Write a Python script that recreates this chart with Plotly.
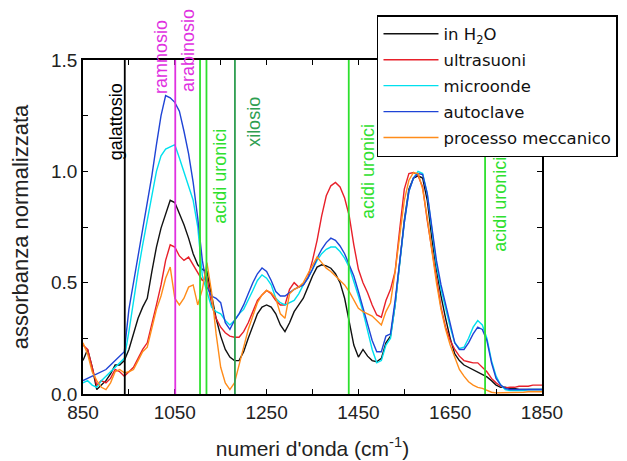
import plotly.graph_objects as go

# Wavenumber grid (cm^-1)
wavenumber = list(range(850, 1851, 10))

# Normalised absorbance
in_h2o = [
    0.15, 0.20, 0.12, 0.02, 0.04, 0.06, 0.09, 0.13, 0.13, 0.15,
    0.20, 0.27, 0.34, 0.39, 0.43, 0.55, 0.66, 0.745, 0.81, 0.87,
    0.86, 0.81, 0.76, 0.70, 0.63, 0.58, 0.56, 0.55, 0.45, 0.34,
    0.26, 0.20, 0.166, 0.15, 0.15, 0.19, 0.25, 0.31, 0.36, 0.39,
    0.40, 0.39, 0.36, 0.31, 0.28, 0.32, 0.37, 0.40, 0.43, 0.48,
    0.53, 0.57, 0.58, 0.575, 0.565, 0.54, 0.50, 0.43, 0.33, 0.22,
    0.166, 0.20, 0.17, 0.15, 0.145, 0.16, 0.23, 0.26, 0.40, 0.60,
    0.78, 0.92, 0.97, 0.98, 0.97, 0.87, 0.70, 0.56, 0.44, 0.34,
    0.25, 0.18, 0.15, 0.13, 0.12, 0.11, 0.10, 0.09, 0.077, 0.06,
    0.04, 0.03, 0.03, 0.025, 0.025, 0.02, 0.02, 0.02, 0.02, 0.02, 0.02,
]
ultrasuoni = [
    0.22, 0.20, 0.12, 0.04, 0.06, 0.05, 0.07, 0.11, 0.10, 0.08,
    0.10, 0.12, 0.16, 0.20, 0.23, 0.31, 0.40, 0.49, 0.60, 0.67,
    0.66, 0.62, 0.60, 0.615, 0.58, 0.55, 0.51, 0.525, 0.40, 0.34,
    0.30, 0.275, 0.26, 0.255, 0.255, 0.28, 0.32, 0.37, 0.42, 0.445,
    0.465, 0.45, 0.42, 0.40, 0.40, 0.47, 0.50, 0.48, 0.49, 0.525,
    0.60, 0.69, 0.80, 0.89, 0.935, 0.95, 0.93, 0.88, 0.80, 0.67,
    0.56, 0.50, 0.455, 0.40, 0.355, 0.345, 0.42, 0.47, 0.55, 0.74,
    0.92, 0.99, 0.995, 0.98, 0.93, 0.78, 0.64, 0.52, 0.39, 0.30,
    0.24, 0.20, 0.17, 0.15, 0.145, 0.14, 0.14, 0.12, 0.10, 0.07,
    0.05, 0.035, 0.027, 0.03, 0.03, 0.035, 0.035, 0.035, 0.04, 0.04, 0.04,
]
microonde = [
    0.05, 0.06, 0.04, 0.03, 0.06, 0.08, 0.10, 0.12, 0.14, 0.16,
    0.28, 0.42, 0.55, 0.67, 0.78, 0.90, 1.00, 1.07, 1.10, 1.11,
    1.12, 1.06, 1.00, 0.94, 0.87, 0.75, 0.53, 0.46, 0.39, 0.37,
    0.36, 0.33, 0.31, 0.33, 0.36, 0.38, 0.42, 0.465, 0.51, 0.535,
    0.52, 0.49, 0.43, 0.41, 0.40, 0.41, 0.42, 0.45, 0.49, 0.52,
    0.56, 0.60, 0.63, 0.65, 0.66, 0.66, 0.64, 0.61, 0.57, 0.51,
    0.44, 0.37, 0.28, 0.20, 0.14, 0.15, 0.22, 0.25, 0.40, 0.60,
    0.77, 0.91, 0.97, 1.00, 0.99, 0.90, 0.73, 0.58, 0.47, 0.38,
    0.30, 0.23, 0.205, 0.21, 0.25, 0.30, 0.33, 0.31, 0.25, 0.15,
    0.08, 0.04, 0.02, 0.015, 0.015, 0.015, 0.015, 0.02, 0.02, 0.02, 0.02,
]
autoclave = [
    0.06, 0.07, 0.08, 0.09, 0.10, 0.11, 0.13, 0.15, 0.17, 0.19,
    0.38, 0.50, 0.62, 0.75, 0.86, 0.98, 1.12, 1.25, 1.34, 1.33,
    1.31, 1.27, 1.18, 1.08, 0.95, 0.79, 0.60, 0.48, 0.44, 0.43,
    0.41, 0.32, 0.29, 0.33, 0.36, 0.40, 0.45, 0.50, 0.54, 0.566,
    0.55, 0.51, 0.46, 0.44, 0.44, 0.455, 0.47, 0.48, 0.49, 0.52,
    0.56, 0.61, 0.65, 0.68, 0.70, 0.69, 0.665, 0.63, 0.58, 0.53,
    0.46, 0.39, 0.31, 0.24, 0.19, 0.19, 0.26, 0.27, 0.42, 0.61,
    0.77, 0.91, 0.97, 0.99, 0.985, 0.90, 0.74, 0.60, 0.49, 0.40,
    0.31, 0.23, 0.20, 0.20, 0.23, 0.27, 0.30, 0.29, 0.24, 0.14,
    0.07, 0.04, 0.025, 0.02, 0.02, 0.02, 0.02, 0.02, 0.02, 0.02, 0.02,
]
processo_meccanico = [
    0.23, 0.18, 0.10, 0.06, 0.03, 0.02, 0.05, 0.10, 0.11, 0.095,
    0.10, 0.11, 0.15, 0.19, 0.21, 0.30, 0.38, 0.44, 0.52, 0.57,
    0.43, 0.40, 0.43, 0.48, 0.49, 0.40, 0.47, 0.59, 0.46, 0.27,
    0.12, 0.05, 0.02, 0.05, 0.13, 0.22, 0.29, 0.35, 0.41, 0.445,
    0.465, 0.455, 0.43, 0.36, 0.34, 0.45, 0.47, 0.48, 0.50, 0.54,
    0.58, 0.615, 0.59, 0.565, 0.55, 0.53, 0.51, 0.49, 0.46, 0.42,
    0.385, 0.37, 0.36, 0.35, 0.33, 0.31, 0.37, 0.41, 0.55, 0.72,
    0.87, 0.96, 0.995, 0.99, 0.92, 0.79, 0.645, 0.50, 0.38, 0.29,
    0.22, 0.16, 0.11, 0.08, 0.055, 0.04, 0.03, 0.025, 0.015, 0.008,
    0.005, 0.005, 0.005, 0.005, 0.005, 0.008, 0.008, 0.01, 0.01, 0.01, 0.01,
]

series_names = ["in H<sub>2</sub>O", "ultrasuoni", "microonde", "autoclave", "processo meccanico"]
series_values = [in_h2o, ultrasuoni, microonde, autoclave, processo_meccanico]
series_colors = ["#111111", "#e8202a", "#00e0ee", "#1f44d6", "#ff8c1a"]

# Reference band positions (cm^-1) and their labels
band_x = [941, 1051, 1105, 1119, 1181, 1429, 1726]
band_colors = ["#000000", "#e030e0", "#2ee02e", "#2ee02e", "#2e9e50", "#2ee02e", "#2ee02e"]

label_texts = ["galattosio", "ramnosio", "arabinosio", "acidi uronici", "xilosio",
               "acidi uronici", "acidi uronici"]
label_x = [922, 1020, 1079, 1148, 1222, 1471, 1758]
label_y = [0.814, 1.009, 1.027, 0.653, 0.814, 0.665, 0.569]
label_colors = ["#000000", "#e030e0", "#e030e0", "#2ee02e", "#2e9e50", "#2ee02e", "#2ee02e"]

x_ticks = [850, 1050, 1250, 1450, 1650, 1850]

FONT = "Liberation Sans, Arial, sans-serif"
LEGEND_FONT = "DejaVu Sans, Liberation Sans, sans-serif"

fig = go.Figure()
for name, vals, col in zip(series_names, series_values, series_colors):
    fig.add_trace(go.Scatter(
        x=wavenumber, y=vals, mode="lines", name=name,
        line=dict(color=col, width=1.4), legendgroup=name,
    ))

for bx, bc in zip(band_x, band_colors):
    fig.add_shape(type="line", xref="x", yref="paper", x0=bx, x1=bx, y0=0, y1=1,
                  line=dict(color=bc, width=1.8))

for t, lx, ly, lc in zip(label_texts, label_x, label_y, label_colors):
    fig.add_annotation(text=t, x=lx, y=ly, xref="x", yref="paper", textangle=-90,
                       showarrow=False, font=dict(family=FONT, size=18, color=lc),
                       xanchor="center", yanchor="middle")

axis_common = dict(
    showline=True, linecolor="black", linewidth=1.5, mirror="ticks",
    ticks="inside", ticklen=5, tickcolor="black", tickwidth=1,
    showgrid=False, zeroline=False, automargin=False,
    tickfont=dict(family=FONT, size=19, color="#222222"),
)

# The page body adds an 8 px offset, so the figure is 8 px smaller and margins shifted
fig.update_layout(
    width=619, height=453,
    margin=dict(l=75, r=85, t=52, b=67, autoexpand=False),
    paper_bgcolor="white", plot_bgcolor="white",
    font=dict(family=FONT, color="#222222"),
    showlegend=True,
    legend=dict(
        x=0.6405, y=1.1347, xanchor="left", yanchor="top",
        bgcolor="white", bordercolor="black", borderwidth=1.5,
        font=dict(family=LEGEND_FONT, size=16.5, color="#111111"),
        tracegroupgap=1.5, itemwidth=55,
    ),
    xaxis=dict(
        range=[850, 1850], tickvals=x_ticks,
        minor=dict(dtick=100, tick0=850, ticks="inside", ticklen=5, tickcolor="black"),
        title=dict(text="numeri d'onda (cm<sup>-1</sup>)", font=dict(family=FONT, size=21, color="#222222"), standoff=20),
        **axis_common,
    ),
    yaxis=dict(
        range=[0, 1.5], dtick=0.5, tick0=0, tickformat=".1f",
        minor=dict(dtick=0.25, tick0=0, ticks="inside", ticklen=5, tickcolor="black"),
        title=dict(text="assorbanza normalizzata", font=dict(family=FONT, size=22, color="#222222"), standoff=19),
        **axis_common,
    ),
)

fig.write_html("out.html")
